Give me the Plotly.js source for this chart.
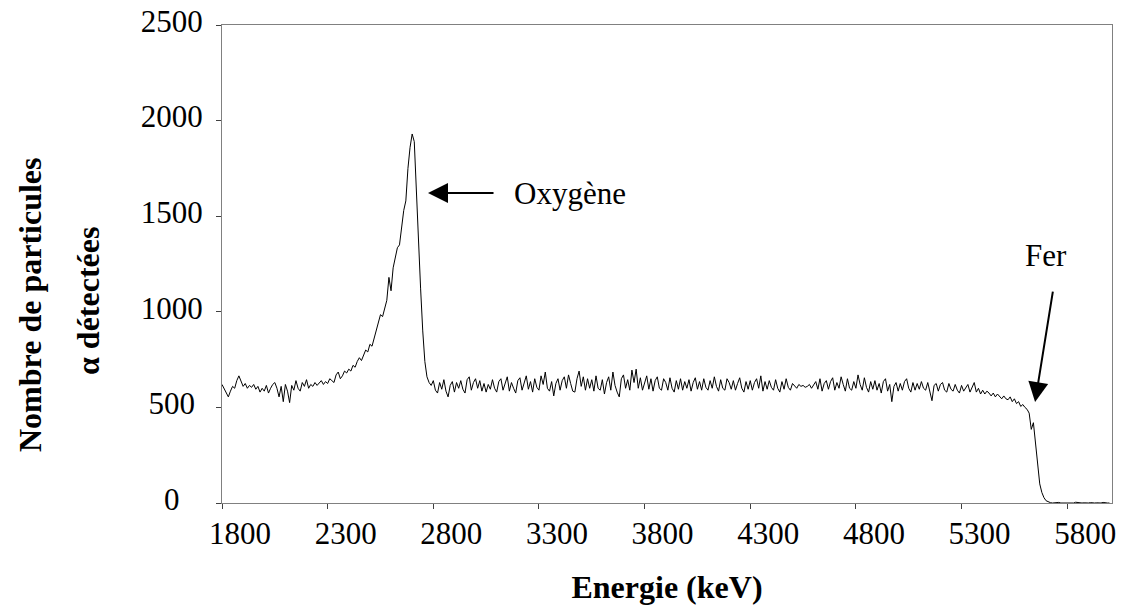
<!DOCTYPE html>
<html>
<head>
<meta charset="utf-8">
<script src="https://cdn.plot.ly/plotly-3.0.1.min.js"></script>
<style>html,body{margin:0;padding:0;background:#fff;}#chart{width:1126px;height:610px;}</style>
</head>
<body>
<div id="chart"></div>
<script>
// Energy calibration of the spectrum (keV)
const energyStart = 1800;
const energyStep = 10;
// Counts, one value per 10 keV, 1800 -> 6000 keV
const counts = [
  620, 600, 575, 555, 585, 610, 600, 640, 665, 640,
  610, 625, 600, 615, 605, 620, 595, 610, 580, 600,
  585, 615, 575, 600, 620, 630, 600, 555, 610, 530,
  620, 585, 525, 615, 590, 640, 600, 585, 630, 610,
  645, 600, 620, 610, 630, 615, 625, 640, 620, 635,
  625, 650, 640, 630, 670, 685, 650, 665, 690, 680,
  700, 690, 720, 710, 740, 760, 745, 770, 800, 790,
  830, 820, 860, 905, 940, 985, 975, 1020, 1060, 1180,
  1110, 1230, 1280, 1335, 1350, 1440, 1530, 1580, 1750, 1860,
  1930, 1890, 1600, 1350, 1120, 900, 740, 660, 630, 615,
  640, 590, 575, 630, 595, 645, 585, 555, 615, 635,
  580, 630, 600, 640, 595, 575, 645, 660, 590, 630,
  650, 600, 640, 585, 625, 580, 620, 595, 645, 600,
  580, 635, 650, 590, 620, 660, 585, 630, 600, 575,
  640, 655, 590, 630, 665, 595, 635, 580, 650, 605,
  590, 665, 620, 685, 600, 585, 635, 560, 625, 650,
  590, 640, 660, 600, 670, 625, 585, 580, 650, 690,
  610, 660, 590, 650, 600, 645, 585, 665, 600, 590,
  645, 570, 630, 660, 590, 685, 615, 580, 555, 650,
  670, 600, 645, 590, 695, 630, 700, 600, 655, 590,
  635, 665, 595, 650, 585, 640, 660, 600, 590, 650,
  630, 590, 655, 600, 580, 640, 595, 650, 590, 635,
  600, 645, 585, 630, 655, 595, 635, 590, 650, 605,
  590, 640, 600, 660, 610, 585, 645, 600, 590, 650,
  630, 595, 640, 590, 625, 655, 600, 580, 635, 595,
  640, 590, 630, 650, 600, 665, 585, 635, 595, 640,
  605, 590, 645, 600, 580, 635, 595, 650, 605, 590,
  625, 615, 600, 620, 610, 615, 605, 610, 620, 600,
  615, 635, 595, 650, 585, 625, 640, 595, 635, 655,
  590, 630, 600, 660, 620, 585, 650, 600, 590, 635,
  600, 670, 620, 590, 655, 605, 580, 635, 595, 640,
  590, 625, 575, 635, 650, 585, 620, 530, 610, 630,
  585, 625, 590, 635, 650, 600, 580, 630, 590, 625,
  595, 635, 600, 590, 630, 580, 535, 615, 625, 585,
  620, 630, 590, 580, 625, 595, 585, 620, 590, 575,
  615, 585, 605, 620, 580, 605, 630, 580, 600, 570,
  590, 570, 585, 575, 560, 575, 555, 570, 560, 545,
  560, 545, 540, 555, 530, 545, 520, 530, 505, 515,
  500, 490, 470, 385, 420, 300, 190, 100, 55, 28,
  12, 5, 2, 0, 1, 0, 3, 0, 0, 2,
  0, 0, 1, 0, 4, 2, 0, 0, 1, 0,
  0, 2, 0, 0, 1, 0, 0, 3, 0, 0,
  0
];
const xTickVals = [1800, 2300, 2800, 3300, 3800, 4300, 4800, 5300, 5800];
const yTickVals = [0, 500, 1000, 1500, 2000, 2500];
const yTickLabels = ['0', '500', '1000', '1500', '2000', '2500'];
const xTitle = 'Energie (keV)';
const yTitleLine1 = 'Nombre de particules';
const yTitleLine2 = 'α détectées';
const peakLabels = ['Oxygène', 'Fer'];

const serif = 'Liberation Serif, Times New Roman, serif';

// centre the y tick labels (the reference centres them) by padding with digit-width spaces
const padFor = {1: '\u2007\u2005', 2: '\u2007', 3: '\u2005', 4: ''};
const yTickText = yTickLabels.map(s => s + padFor[s.length]);

const trace = {
  type: 'scatter', mode: 'lines',
  x0: energyStart, dx: energyStep, y: counts,
  line: {color: '#000', width: 1},
  hoverinfo: 'skip', showlegend: false
};

const axisCommon = {
  showgrid: false, zeroline: false, showline: true, mirror: true,
  linecolor: '#808080', linewidth: 1,
  ticks: 'outside', ticklen: 5, tickwidth: 1, tickcolor: '#404040',
  tickfont: {family: serif, size: 31, color: '#000'},
  fixedrange: true
};

const layout = {
  width: 1126, height: 610,
  margin: {l: 222, r: 14, t: 25, b: 107},
  paper_bgcolor: '#fff', plot_bgcolor: '#fff',
  showlegend: false,
  xaxis: Object.assign({}, axisCommon, {
    range: [1800, 6012], tickmode: 'array', tickvals: xTickVals,
    ticklabelshift: 18, ticklabelstandoff: -2,
    title: {text: '<b>' + xTitle + '</b>', font: {family: serif, size: 32, color: '#000'}, standoff: 25}
  }),
  yaxis: Object.assign({}, axisCommon, {
    range: [0, 2500], tickmode: 'array', tickvals: yTickVals, ticktext: yTickText,
    ticklabelstandoff: 7, ticklabelshift: -4
  }),
  annotations: [
    {xref: 'paper', yref: 'paper', x: (30 - 222) / 890, y: (503 - 305) / 478,
     text: '<b>' + yTitleLine1 + '</b>', textangle: -90, showarrow: false,
     font: {family: serif, size: 32, color: '#000'}, xanchor: 'center', yanchor: 'middle'},
    {xref: 'paper', yref: 'paper', x: (88 - 222) / 890, y: (503 - 301) / 478,
     text: '<b>' + yTitleLine2 + '</b>', textangle: -90, showarrow: false,
     font: {family: serif, size: 32, color: '#000'}, xanchor: 'center', yanchor: 'middle'},
    {x: 2775, y: 1621, xref: 'x', yref: 'y', text: '', showarrow: true,
     ax: 67, ay: 0, arrowhead: 2, arrowsize: 2, arrowwidth: 2, arrowcolor: '#000'},
    {x: 3173, y: 1621, xref: 'x', yref: 'y', text: peakLabels[0], showarrow: false,
     xanchor: 'left', yanchor: 'middle', font: {family: serif, size: 31, color: '#000'}},
    {x: 5648, y: 528, xref: 'x', yref: 'y', text: '', showarrow: true,
     ax: 18, ay: -112, arrowhead: 2, arrowsize: 2, arrowwidth: 2, arrowcolor: '#000'},
    {x: 5700, y: 1292, xref: 'x', yref: 'y', text: peakLabels[1], showarrow: false,
     xanchor: 'center', yanchor: 'middle', font: {family: serif, size: 31, color: '#000'}}
  ]
};

Plotly.newPlot('chart', [trace], layout, {displayModeBar: false, staticPlot: true});
</script>
</body>
</html>
